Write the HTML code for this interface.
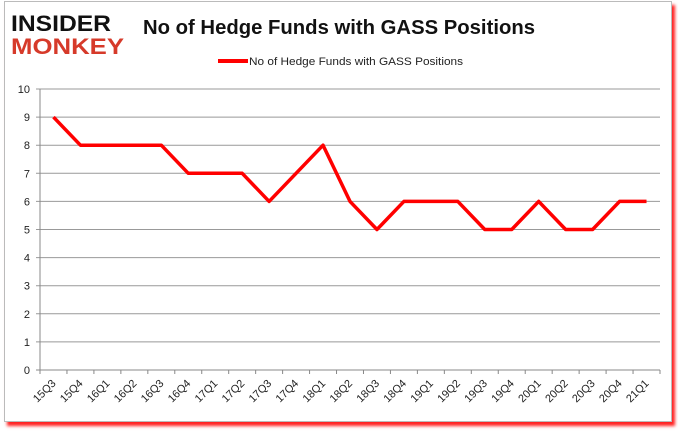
<!DOCTYPE html>
<html><head><meta charset="utf-8"><style>
body{margin:0;background:#fff;width:678px;height:431px;overflow:hidden;font-family:"Liberation Sans",sans-serif}
#frame{position:absolute;left:4px;top:1px;width:666px;height:419px;border:1px solid #bbb;background:#fff;box-shadow:3px 4px 3px #f22}
</style></head><body>
<div id="frame"></div>
<svg width="678" height="431" style="position:absolute;left:0;top:0">
<g font-family="Liberation Sans" font-weight="bold">
<text x="11" y="31" font-size="22" fill="#111" textLength="100" lengthAdjust="spacingAndGlyphs">INSIDER</text>
<text x="11" y="54" font-size="22" fill="#d63a2a" textLength="113" lengthAdjust="spacingAndGlyphs">MONKEY</text>
</g>
<text x="143" y="34" font-size="20" font-weight="bold" fill="#111" textLength="392" lengthAdjust="spacingAndGlyphs">No of Hedge Funds with GASS Positions</text>
<line x1="218" y1="61" x2="248" y2="61" stroke="#f00" stroke-width="4"/>
<text x="249" y="65" font-size="11" fill="#222" textLength="214" lengthAdjust="spacingAndGlyphs">No of Hedge Funds with GASS Positions</text>
<g id="grid"></g><g id="axes"></g><g id="series"></g>
</svg>
<script>
const categories=["15Q3","15Q4","16Q1","16Q2","16Q3","16Q4","17Q1","17Q2","17Q3","17Q4","18Q1","18Q2","18Q3","18Q4","19Q1","19Q2","19Q3","19Q4","20Q1","20Q2","20Q3","20Q4","21Q1"];
const values=[9,8,8,8,8,7,7,7,6,7,8,6,5,6,6,6,5,5,6,5,5,6,6];
const yTicks=[0,1,2,3,4,5,6,7,8,9,10];
const NS="http://www.w3.org/2000/svg";
const X0=40,X1=660,Y0=370,Y1=89;
const step=(X1-X0)/categories.length;
const xs=i=>X0+step*(i+0.5);
const ys=v=>Y0-(v/10)*(Y0-Y1);
function mk(t,a,p){const e=document.createElementNS(NS,t);for(const k in a)e.setAttribute(k,a[k]);p.appendChild(e);return e;}
const grid=document.getElementById('grid'),axes=document.getElementById('axes'),ser=document.getElementById('series');
yTicks.forEach(v=>{
 const l=mk('line',{x1:X0-4,x2:X1,y1:ys(v),y2:ys(v),stroke:v===0?'#888':'#999','stroke-width':1},grid);
 
 
 const t=mk('text',{x:X0-10,y:ys(v)+4,'text-anchor':'end','font-size':11,fill:'#222'},axes);
 t.textContent=v;
 
 
});
mk('line',{x1:X0,x2:X0,y1:Y1,y2:Y0+4,stroke:'#888'},axes);
categories.forEach((c,i)=>{
 mk('line',{x1:X0+step*i,x2:X0+step*i,y1:Y0,y2:Y0+4,stroke:'#888'},axes);
 const x=xs(i)+3,y=Y0+14;
 const t=mk('text',{x:x,y:y,'text-anchor':'end','font-size':11,fill:'#222',transform:`rotate(-45 ${x} ${y})`},axes);
 t.textContent=c;
 
 
});
mk('line',{x1:X1,x2:X1,y1:Y0,y2:Y0+4,stroke:'#888'},axes);
const p=mk('polyline',{points:values.map((v,i)=>xs(i)+','+ys(v)).join(' '),fill:'none',stroke:'#f00','stroke-width':3.5,'stroke-linejoin':'round'},ser);


</script>
</body></html>
